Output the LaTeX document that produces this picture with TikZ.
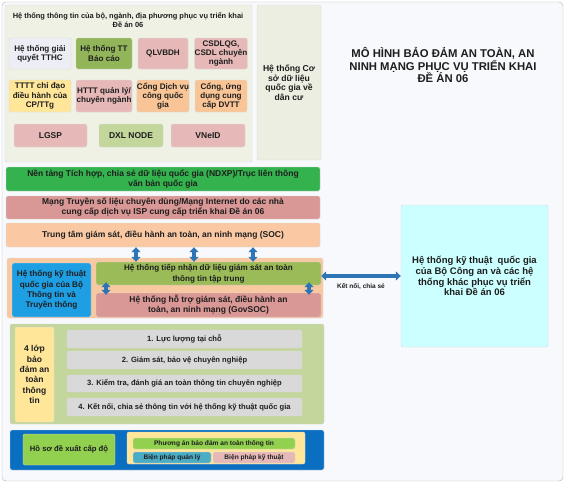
\documentclass[tikz,border=0pt]{standalone}
\usepackage{fontspec}
\setmainfont{Liberation Sans}
\usetikzlibrary{arrows.meta}

\definecolor{bgc}{HTML}{F7F9FD}
\definecolor{txt}{HTML}{1E1E1E}
\definecolor{panel}{HTML}{EFF1E5}
\definecolor{panelb}{HTML}{ECEEE1}
\definecolor{lav}{HTML}{EDEDF5}
\definecolor{olive}{HTML}{92B55A}
\definecolor{pinkb}{HTML}{E6B9B8}
\definecolor{yel}{HTML}{FFE699}
\definecolor{orng}{HTML}{F9C597}
\definecolor{lgreen}{HTML}{C3D69B}
\definecolor{ndxp}{HTML}{33B24E}
\definecolor{rose}{HTML}{D99795}
\definecolor{soc}{HTML}{FAC9A4}
\definecolor{cont}{HTML}{F8C8A0}
\definecolor{mic}{HTML}{1E9FE3}
\definecolor{recv}{HTML}{9BBB59}
\definecolor{cyanb}{HTML}{CCFFFF}
\definecolor{greyb}{HTML}{D9D9D9}
\definecolor{dblue}{HTML}{0B6FC1}
\definecolor{lime}{HTML}{92D050}
\definecolor{teal}{HTML}{4BACC6}
\definecolor{arr}{HTML}{2E75B6}

\begin{document}
\begin{tikzpicture}[x=1pt, y=-1pt,
    every node/.style={font=\bfseries\fontsize{8.1}{9.2}\selectfont, text=txt},
    bx/.style={draw=black!15, rounded corners=2pt, align=center, inner sep=0pt},
    sz/.style 2 args={minimum width=#1pt, minimum height=#2pt},
    big/.style={font=\bfseries\fontsize{8.5}{10}\selectfont},
    band/.style={font=\bfseries\fontsize{8.5}{10}\selectfont},
    lyr/.style={font=\bfseries\fontsize{7.6}{8.5}\selectfont},
    tiny/.style={font=\bfseries\fontsize{6.6}{7.5}\selectfont},
    darr/.style={draw=arr, line width=3.2pt,
                 {Triangle[width=9pt,length=5pt]}-{Triangle[width=9pt,length=5pt]}},
  ]
  \useasboundingbox (0,0) rectangle (568,483);
  \node[bx, sz={561}{479}, fill=bgc, draw=black!30, rounded corners=4pt] (frame) at (282.5,241.5) {};

  % he thong thong tin cua bo, nganh
  \node[bx, sz={247}{157}, fill=panel] (info) at (128.5,83.5) {};
  \node[align=center, font=\bfseries\fontsize{7.45}{8.6}\selectfont] (infot) at (128,20)
    {Hệ thống thông tin của bộ, ngành, địa phương phục vụ triển khai\\Đề án 06};
  \node[bx, sz={62}{31}, fill=lav] (tthc) at (40,53.5) {Hệ thống giải\\quyết TTHC};
  \node[bx, sz={56}{31}, fill=olive] (ttbc) at (104,53.5) {Hệ thống TT\\Báo cáo};
  \node[bx, sz={50}{31}, fill=pinkb] (qlvb) at (163,53.5) {QLVBDH};
  \node[bx, sz={52}{31}, fill=pinkb] (csdl) at (221,53.5) {CSDLQG,\\CSDL chuyên\\ngành};
  \node[bx, sz={62}{32}, fill=yel] (tttt) at (40,96) {TTTT chỉ đạo\\điều hành của\\CP/TTg};
  \node[bx, sz={56}{32}, fill=pinkb] (httt) at (104,96) {HTTT quản lý/\\chuyên ngành};
  \node[bx, sz={50}{32}, fill=orng] (dvc) at (163,96) {Cổng Dịch vụ\\công quốc\\gia};
  \node[bx, sz={52}{32}, fill=orng] (dvtt) at (221,96) {Cổng, ứng\\dụng cung\\cấp DVTT};
  \node[bx, big, sz={73}{23}, fill=pinkb] (lgsp) at (50.5,135.5) {LGSP};
  \node[bx, big, sz={64}{23}, fill=lgreen] (dxl) at (131,135.5) {DXL NODE};
  \node[bx, big, sz={74}{23}, fill=pinkb] (vneid) at (208,135.5) {VNeID};

  \node[bx, sz={64}{155}, fill=panelb, font=\bfseries\fontsize{8.6}{9.5}\selectfont] (dancu) at (289,82.5)
    {Hệ thống Cơ\\sở dữ liệu\\quốc gia về\\dân cư};

  \node[align=center, font=\bfseries\fontsize{11.3}{12.6}\selectfont] (title) at (443,65)
    {MÔ HÌNH BẢO ĐẢM AN TOÀN, AN\\NINH MẠNG PHỤC VỤ TRIỂN KHAI\\ĐỀ ÁN 06};

  % cac tang
  \node[bx, band, sz={314}{24}, fill=ndxp] (ndxp) at (163,179)
    {Nền tảng Tích hợp, chia sẻ dữ liệu quốc gia (NDXP)/Trục liên thông\\văn bản quốc gia};
  \node[bx, band, sz={314}{23}, fill=rose] (isp) at (163,207.5)
    {Mạng Truyền số liệu chuyên dùng/Mạng Internet do các nhà\\cung cấp dịch vụ ISP cung cấp triển khai Đề án 06};
  \node[bx, band, sz={314}{24}, fill=soc] (soc) at (163,235)
    {Trung tâm giám sát, điều hành an toàn, an ninh mạng (SOC)};

  \node[bx, sz={316}{60}, fill=cont] (cont) at (165,288) {};
  \node[bx, big, sz={79}{54}, fill=mic, font=\bfseries\fontsize{8.2}{10.3}\selectfont] (mic) at (51.5,290)
    {Hệ thống kỹ thuật\\quốc gia của Bộ\\Thông tin và\\Truyền thông};
  \node[bx, sz={225}{23}, fill=recv, font=\bfseries\fontsize{8.1}{10.8}\selectfont] (recv) at (208.5,273.5)
    {Hệ thống tiếp nhận dữ liệu giám sát an toàn\\thông tin tập trung};
  \node[bx, band, sz={225}{24}, fill=rose] (govsoc) at (208.5,305)
    {Hệ thống hỗ trợ giám sát, điều hành an\\toàn, an ninh mạng (GovSOC)};

  \node[bx, sz={147}{142}, fill=cyanb, font=\bfseries\fontsize{9.5}{10.8}\selectfont] (mps) at (474.5,276)
    {Hệ thống kỹ thuật\ \ quốc gia\\của Bộ Công an và các hệ\\thống khác phục vụ triển\\khai Đề án 06};

  \foreach \dx in {-27,31,90}
    \draw[darr] ([xshift=\dx]soc.south) -- ([xshift=\dx]soc.south |- recv.north);
  \foreach \dx in {-102.5,100.5}
    \draw[darr, shorten <=-3pt, shorten >=-2pt] ([xshift=\dx]recv.south) -- ([xshift=\dx]recv.south |- govsoc.north);
  \draw[darr] (recv.east |- mps.west) -- node[below=2.5pt, font=\bfseries\fontsize{6.5}{7}\selectfont] (ketnoi) {Kết nối, chia sẻ} (mps.west);

  % 4 lop bao dam
  \node[bx, sz={314}{100}, fill=lgreen] (lop) at (167,374) {};
  \node[bx, big, sz={39}{95}, fill=yel, font=\bfseries\fontsize{8.5}{10.3}\selectfont] (lop4) at (34.5,374.5)
    {4 lớp\\bảo\\đảm an\\toàn\\thông\\tin};
  \node[bx, lyr, sz={235}{18}, fill=greyb] (l1) at (184.5,339) {1. Lực lượng tại chỗ};
  \node[bx, lyr, sz={235}{18}, fill=greyb] (l2) at (184.5,360) {2. Giám sát, bảo vệ chuyên nghiệp};
  \node[bx, lyr, sz={235}{17}, fill=greyb] (l3) at (184.5,383.5) {3. Kiểm tra, đánh giá an toàn thông tin chuyên nghiệp};
  \node[bx, lyr, sz={235}{18}, fill=greyb] (l4) at (184.5,407) {4. Kết nối, chia sẻ thông tin với hệ thống kỹ thuật quốc gia};

  % ho so cap do
  \node[bx, sz={314}{40}, fill=dblue] (capdo) at (167,450) {};
  \node[bx, sz={92}{31}, fill=lime, font=\bfseries\fontsize{7.7}{8.5}\selectfont] (hoso) at (69,449.5) {Hồ sơ đề xuất cấp độ};
  \node[bx, sz={178}{32}, fill=yel] (phuongan) at (216,448) {};
  \node[bx, tiny, sz={162}{11}, fill=lime] (pa) at (214,443.5) {Phương án bảo đảm an toàn thông tin};
  \node[bx, tiny, sz={78}{11}, fill=teal] (bpql) at (172,457.5) {Biện pháp quản lý};
  \node[bx, tiny, sz={82}{11}, fill=pinkb] (bpkt) at (254,457.5) {Biện pháp kỹ thuật};
\end{tikzpicture}
\end{document}
